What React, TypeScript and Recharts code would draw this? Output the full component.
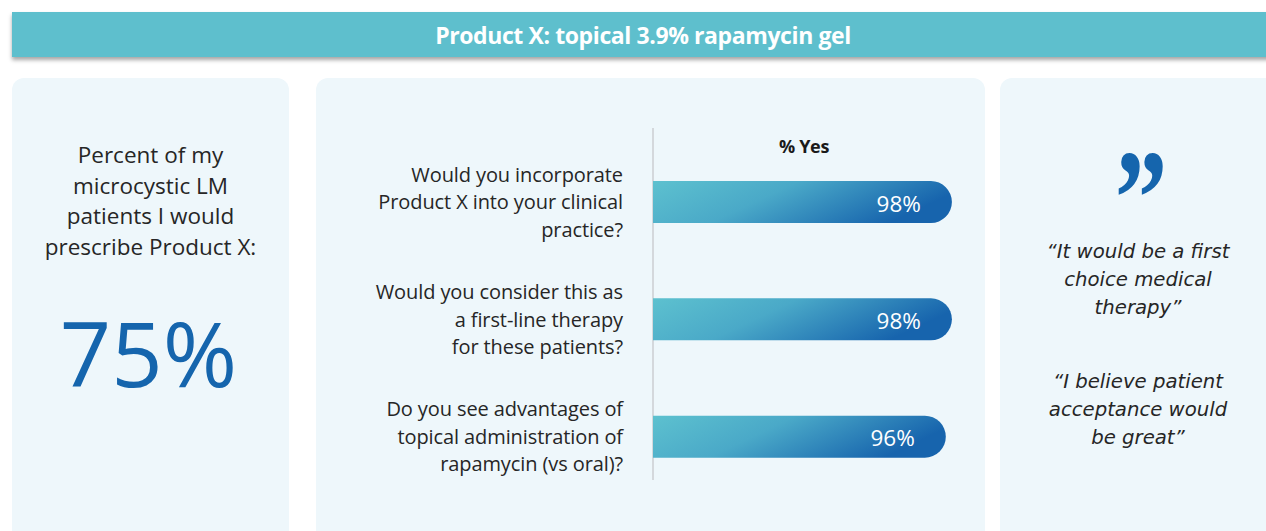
import React from 'react';
import { BarChart, Bar, XAxis, YAxis, LabelList } from 'recharts';

const questions = [
  'Would you incorporate Product X into your clinical practice?',
  'Would you consider this as a first-line therapy for these patients?',
  'Do you see advantages of topical administration of rapamycin (vs oral)?',
];
const questionLines = [
  ['Would you incorporate', 'Product X into your clinical', 'practice?'],
  ['Would you consider this as', 'a first-line therapy', 'for these patients?'],
  ['Do you see advantages of', 'topical administration of', 'rapamycin (vs oral)?'],
];
const pctYes = [98, 98, 96];

const data = questions.map((q, i) => ({ name: q, value: pctYes[i] }));

const panelBg = '#eef7fb';
const textFont = '"Open Sans", Lato, sans-serif';

const QuestionTick = (props: any) => {
  const { x, y, index } = props;
  const lines = questionLines[index] || [];
  const lh = 27.5;
  const start = y - ((lines.length - 1) * lh) / 2;
  return (
    <text x={x - 22} y={start} textAnchor="end" fill="#262626" fontSize={20} fontFamily={textFont} letterSpacing={-0.1}>
      {lines.map((l: string, i: number) => (
        <tspan key={i} x={x - 22} y={start + i * lh} dominantBaseline="central">
          {l}
        </tspan>
      ))}
    </text>
  );
};

const PctLabel = (props: any) => {
  const { x, y, width, height, value } = props;
  return (
    <text
      x={x + width - 31}
      y={y + height / 2 + 1}
      textAnchor="end"
      dominantBaseline="central"
      fill="#ffffff"
      fontSize={22.5}
      fontFamily={textFont}
    >
      {value}%
    </text>
  );
};

export default function App() {
  return (
    <div style={{ position: 'absolute', left: 0, top: 0, width: 1266, height: 531, overflow: 'hidden', background: '#fff' }}>
      {/* header */}
      <div
        style={{
          position: 'absolute', left: 12, top: 12, width: 1270, height: 45,
          background: '#5ebfcd', boxShadow: '0 3px 4px rgba(0,0,0,0.35)',
        }}
      />
      <div
        style={{
          position: 'absolute', left: 0, top: 12, width: 1286, height: 45,
          color: '#fff', fontFamily: textFont, fontWeight: 700, fontSize: 23, letterSpacing: -0.4,
          display: 'flex', alignItems: 'center', justifyContent: 'center',
        }}
      >
        Product X: topical 3.9% rapamycin gel
      </div>

      {/* left panel */}
      <div style={{ position: 'absolute', left: 12, top: 78, width: 277, height: 470, background: panelBg, borderRadius: 12 }} />
      <div
        style={{
          position: 'absolute', left: 12, top: 140, width: 277, textAlign: 'center',
          fontFamily: textFont, fontSize: 22.5, lineHeight: '30.5px', color: '#262626',
        }}
      >
        Percent of my<br />microcystic LM<br />patients I would<br />prescribe Product X:
      </div>
      <div
        style={{
          position: 'absolute', left: 10, top: 302, width: 277, textAlign: 'center',
          fontFamily: textFont, fontSize: 90, lineHeight: '100px', color: '#1565ad',
        }}
      >
        75%
      </div>

      {/* middle panel */}
      <div style={{ position: 'absolute', left: 316, top: 78, width: 669, height: 470, background: panelBg, borderRadius: 12 }} />
      <div style={{ position: 'absolute', left: 652, top: 128, width: 2, height: 352, background: '#d4d8dc' }} />
      <div
        style={{
          position: 'absolute', left: 653, top: 134, width: 302, textAlign: 'center',
          fontFamily: textFont, fontWeight: 700, fontSize: 18, color: '#1a1a1a', letterSpacing: -0.3,
        }}
      >
        % Yes
      </div>
      <div style={{ position: 'absolute', left: 330, top: 0 }}>
        <BarChart
          width={640}
          height={531}
          data={data}
          layout="vertical"
          margin={{ top: 143, right: 12, bottom: 36, left: 0 }}
        >
          <defs>
            <linearGradient id="barGrad" x1="0" y1="0" x2="1" y2="0.3">
              <stop offset="0%" stopColor="#5dc1cf" />
              <stop offset="45%" stopColor="#4aa9c8" />
              <stop offset="100%" stopColor="#1764ad" />
            </linearGradient>
          </defs>
          <XAxis type="number" domain={[0, 100]} hide />
          <YAxis
            type="category"
            dataKey="name"
            width={323}
            axisLine={false}
            tickLine={false}
            tick={<QuestionTick />}
            interval={0}
          />
          <Bar dataKey="value" fill="url(#barGrad)" barSize={42} radius={[0, 21, 21, 0]} isAnimationActive={false}>
            <LabelList dataKey="value" content={<PctLabel />} />
          </Bar>
        </BarChart>
      </div>

      {/* right panel */}
      <div style={{ position: 'absolute', left: 1000, top: 78, width: 280, height: 470, background: panelBg, borderRadius: 12 }} />
      <div
        style={{
          position: 'absolute', left: 1113, top: 162, height: 60,
          fontFamily: '"Liberation Serif", serif', fontWeight: 700, fontSize: 112, lineHeight: '60px', color: '#1565ad',
          transform: 'scale(0.94, 1.22)', transformOrigin: '50% 0',
        }}
      >
        ”
      </div>
      <div
        style={{
          position: 'absolute', left: 1000, top: 238, width: 280, textAlign: 'center',
          fontFamily: '"DejaVu Sans", sans-serif', fontStyle: 'italic', fontSize: 19.7,
          lineHeight: '28px', color: '#262626',
        }}
      >
        <div style={{ width: 280, marginLeft: -2 }}>
          “It would be a first<br />choice medical<br />therapy”
          <div style={{ height: 46 }} />
          “I believe patient<br />acceptance would<br />be great”
        </div>
      </div>
    </div>
  );
}
